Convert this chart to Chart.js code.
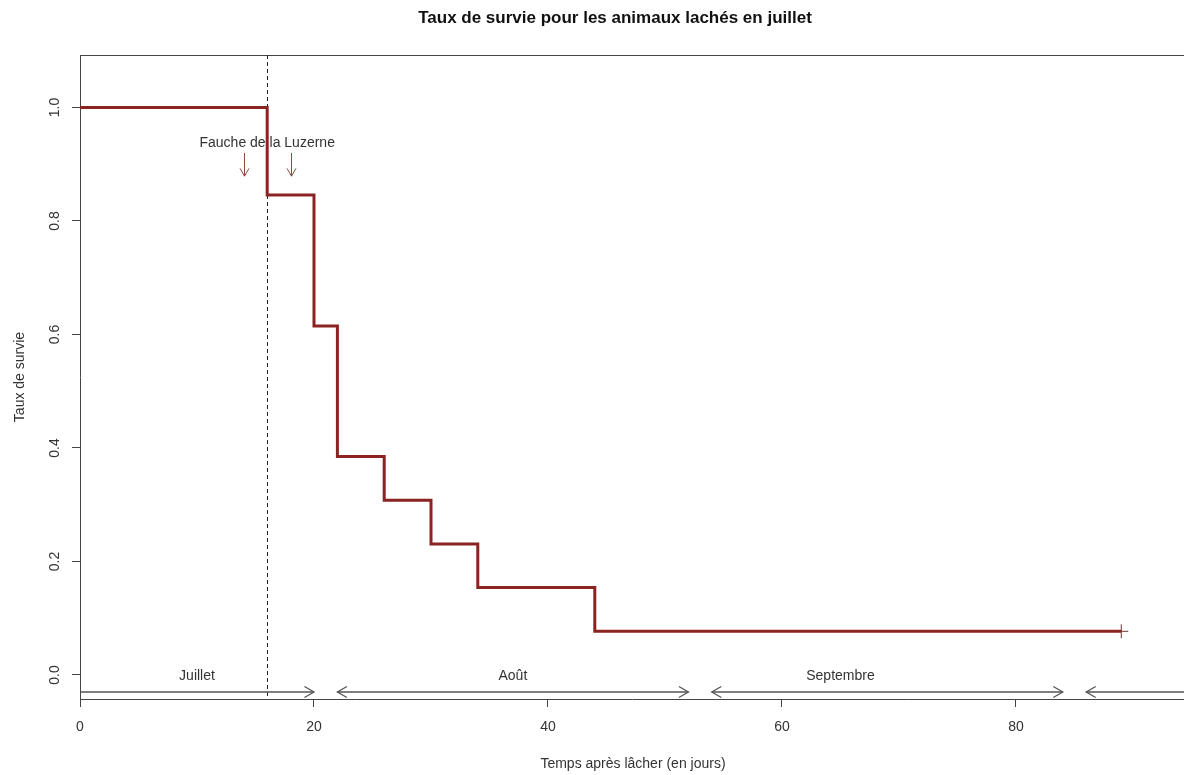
<!DOCTYPE html>
<html>
<head>
<meta charset="utf-8">
<script src="https://cdn.jsdelivr.net/npm/chart.js@4/dist/chart.umd.min.js"></script>
<style>
  html, body { margin: 0; padding: 0; background: #fff; }
  #wrap { width: 1184px; height: 775px; position: relative; }
</style>
</head>
<body>
<div id="wrap"><canvas id="c" width="1184" height="775"></canvas></div>
<script>
// ---- Data ----
const times = [0, 16, 20, 22, 26, 30, 34, 44, 89];
const survival = [1.0, 0.846, 0.615, 0.385, 0.308, 0.231, 0.154, 0.077, 0.077];
const censorTimes = [89];
const censorValues = [0.077];
const xTicks = [0, 20, 40, 60, 80];
const yTicks = [0.0, 0.2, 0.4, 0.6, 0.8, 1.0];
const mowingDay = 16;
const mowingLabel = 'Fauche de la Luzerne';
const mowingArrowDays = [14, 18];
const monthLabels = ['Juillet', 'Août', 'Septembre'];
const monthLabelDays = [10, 37, 65];
const monthStarts = [0, 22, 54, 86];
const monthEnds = [20, 52, 84, 94.4];
const monthHeads = ['end', 'both', 'both', 'start'];

const FONT = '"Liberation Sans", Arial, Helvetica, sans-serif';
const TXT = '#333333';
const AX = '#444444';

function arrowHead(ctx, x, y, dir, len) {
  const a = Math.PI / 6;
  ctx.beginPath();
  ctx.moveTo(x - len * Math.cos(dir - a), y - len * Math.sin(dir - a));
  ctx.lineTo(x, y);
  ctx.lineTo(x - len * Math.cos(dir + a), y - len * Math.sin(dir + a));
  ctx.stroke();
}

const decor = {
  id: 'decor',
  beforeDatasetsDraw(chart) {
    const {ctx, chartArea: ca, scales: {x, y}} = chart;
    ctx.save();
    ctx.strokeStyle = AX; ctx.lineWidth = 1;
    ctx.beginPath(); ctx.moveTo(ca.left, ca.top + 0.5); ctx.lineTo(ca.right, ca.top + 0.5); ctx.stroke();
    const xm = Math.round(x.getPixelForValue(mowingDay)) + 0.5;
    ctx.strokeStyle = '#222'; ctx.setLineDash([4, 3]);
    ctx.beginPath(); ctx.moveTo(xm, ca.top); ctx.lineTo(xm, ca.bottom); ctx.stroke();
    ctx.setLineDash([]);
    ctx.restore();
  },
  afterDatasetsDraw(chart) {
    const {ctx, chartArea: ca, scales: {x, y}} = chart;
    ctx.save();
    ctx.fillStyle = TXT;
    ctx.font = '14px ' + FONT;
    ctx.textAlign = 'center'; ctx.textBaseline = 'middle';
    ctx.fillText(mowingLabel, x.getPixelForValue(mowingDay), y.getPixelForValue(0.937));
    ctx.strokeStyle = '#8B4A3A'; ctx.lineWidth = 1;
    mowingArrowDays.forEach(d => {
      const px = Math.round(x.getPixelForValue(d)) + 0.5;
      const y0 = y.getPixelForValue(0.92), y1 = y.getPixelForValue(0.879);
      ctx.beginPath(); ctx.moveTo(px, y0); ctx.lineTo(px, y1); ctx.stroke();
      arrowHead(ctx, px, y1, Math.PI / 2, 9);
    });
    ctx.strokeStyle = '#555'; ctx.lineWidth = 1.3;
    const ya = y.getPixelForValue(-0.03);
    for (let i = 0; i < monthStarts.length; i++) {
      const x0 = x.getPixelForValue(monthStarts[i]);
      const x1 = Math.min(x.getPixelForValue(monthEnds[i]), ca.right);
      ctx.beginPath(); ctx.moveTo(x0, ya); ctx.lineTo(x1, ya); ctx.stroke();
      if (monthHeads[i] === 'end' || monthHeads[i] === 'both') arrowHead(ctx, x1, ya, 0, 11);
      if (monthHeads[i] === 'start' || monthHeads[i] === 'both') arrowHead(ctx, x0, ya, Math.PI, 11);
    }
    ctx.fillStyle = TXT;
    ctx.font = '14px ' + FONT;
    monthLabels.forEach((m, i) => {
      ctx.fillText(m, x.getPixelForValue(monthLabelDays[i]), y.getPixelForValue(0.0) + 1);
    });
    yTicks.forEach(v => {
      ctx.save();
      ctx.translate(55, y.getPixelForValue(v));
      ctx.rotate(-Math.PI / 2);
      ctx.fillText(v.toFixed(1), 0, 0);
      ctx.restore();
    });
    ctx.save();
    ctx.translate(20, (ca.top + ca.bottom) / 2);
    ctx.rotate(-Math.PI / 2);
    ctx.fillText('Taux de survie', 0, 0);
    ctx.restore();
    ctx.fillText('Temps après lâcher (en jours)', 633, 764);
    ctx.fillStyle = '#111';
    ctx.font = 'bold 17px ' + FONT;
    ctx.fillText('Taux de survie pour les animaux lachés en juillet', 615, 18);
    ctx.restore();
  }
};

new Chart(document.getElementById('c'), {
  type: 'line',
  data: {
    datasets: [
      {
        label: 'Survie',
        data: times.map((t, i) => ({x: t, y: survival[i]})),
        stepped: 'before',
        borderColor: '#8B2323',
        borderWidth: 3,
        pointRadius: 0,
        fill: false
      },
      {
        label: 'Censure',
        data: censorTimes.map((t, i) => ({x: t, y: censorValues[i]})),
        showLine: false,
        pointStyle: 'cross',
        pointRadius: 7,
        borderColor: '#6a3a3a',
        borderWidth: 1
      }
    ]
  },
  options: {
    responsive: false,
    animation: false,
    layout: { autoPadding: false, padding: { top: 55, left: 0, right: 0, bottom: 0 } },
    plugins: { legend: { display: false }, title: { display: false }, tooltip: { enabled: false } },
    scales: {
      x: {
        type: 'linear', min: 0, max: 94.36,
        afterBuildTicks: s => { s.ticks = xTicks.map(v => ({value: v})); },
        afterFit: s => { s.height = 76; },
        grid: { drawOnChartArea: false, drawTicks: true, tickLength: 8, color: AX, tickWidth: 1 },
        border: { display: true, color: AX, width: 1 },
        ticks: { color: TXT, font: { family: FONT, size: 14 }, padding: 12, maxRotation: 0, callback: v => String(v) }
      },
      y: {
        type: 'linear', min: -0.0423, max: 1.0925,
        afterBuildTicks: s => { s.ticks = yTicks.map(v => ({value: v})); },
        afterFit: s => { s.width = 80; },
        grid: { drawOnChartArea: false, drawTicks: true, tickLength: 8, color: AX, tickWidth: 1 },
        border: { display: true, color: AX, width: 1 },
        ticks: { display: false }
      }
    }
  },
  plugins: [decor]
});
</script>
</body>
</html>
